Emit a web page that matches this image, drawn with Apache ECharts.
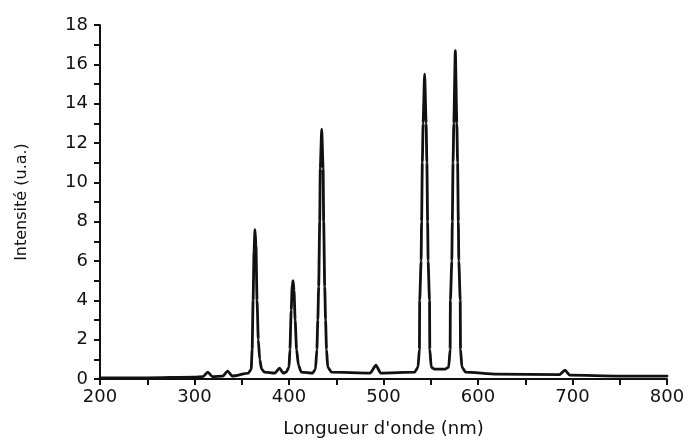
<!DOCTYPE html>
<html>
<head>
<meta charset="utf-8">
<script src="https://cdn.jsdelivr.net/npm/echarts@6/dist/echarts.min.js"></script>
<style>
  html, body { margin: 0; padding: 0; background: #fff; }
  #chart { width: 690px; height: 443px; }
</style>
</head>
<body>
<div id="chart"></div>
<script>
// wavelength (nm)
const wavelengths = [
  200, 250, 300, 309, 314, 319, 330, 335, 340, 357,
  360, 361, 362, 363, 364, 365, 366.2, 367.5, 369, 371,
  374, 385, 390, 394, 397, 400, 401, 402.3, 403.5, 404.3,
  405.3, 406.5, 408, 410, 413, 425, 428, 429.5, 430.5, 431.4,
  432.5, 433.1, 434.6, 436.1, 436.7, 437.8, 438.7, 439.7, 441, 445,
  486, 492, 497, 533, 536.5, 538, 538.3, 539.8, 540.3, 541.1,
  541.9, 543.5, 545.1, 545.9, 546.7, 547.2, 548.7, 549, 550.5, 554,
  565, 569, 570.5, 570.8, 572.3, 572.8, 573.6, 574.4, 576, 577.6,
  578.4, 579.2, 579.7, 581.2, 581.5, 583, 587, 620, 686, 692,
  697, 750, 800
];
// intensity (u.a.)
const intensity = [
  0.05, 0.06, 0.1, 0.12, 0.35, 0.12, 0.15, 0.4, 0.15, 0.3,
  0.5, 1.5, 4, 6.5, 7.6, 6.8, 4, 2, 1, 0.5,
  0.35, 0.3, 0.55, 0.3, 0.35, 0.6, 1.5, 3.5, 4.8, 5.0,
  4.5, 3, 1.5, 0.7, 0.35, 0.3, 0.5, 1.5, 3, 4.7,
  8, 10.7, 12.7, 10.7, 8, 4.7, 3, 1.5, 0.6, 0.35,
  0.3, 0.7, 0.3, 0.35, 0.6, 1.5, 4, 6, 8, 11,
  13, 15.5, 13, 11, 8, 6, 4, 1.5, 0.6, 0.5,
  0.5, 0.6, 1.5, 4, 6, 8, 11, 13, 16.7, 13,
  11, 8, 6, 4, 1.5, 0.6, 0.35, 0.25, 0.22, 0.45,
  0.2, 0.15, 0.15
];
const xTicks = { min: 200, max: 800, step: 100 };
const yTicks = { min: 0, max: 18, step: 2 };

const points = wavelengths.map((w, i) => [w, intensity[i]]);

const font = 'DejaVu Sans';
const chart = echarts.init(document.getElementById('chart'), null, { renderer: 'canvas' });

chart.setOption({
  backgroundColor: '#ffffff',
  animation: false,
  grid: { left: 100, right: 23, top: 25, bottom: 60 },
  xAxis: {
    type: 'value',
    min: xTicks.min,
    max: xTicks.max,
    interval: xTicks.step,
    name: "Longueur d'onde (nm)",
    nameLocation: 'middle',
    nameGap: 41,
    nameTextStyle: { fontFamily: font, fontSize: 18, color: '#111' },
    axisLine: { lineStyle: { color: '#111', width: 2 } },
    axisTick: { show: true, length: 6, lineStyle: { color: '#111', width: 2 } },
    minorTick: { show: true, splitNumber: 2, length: 6, lineStyle: { color: '#111', width: 2 } },
    axisLabel: { fontFamily: font, fontSize: 18, color: '#111', margin: 9 },
    splitLine: { show: false }
  },
  yAxis: {
    type: 'value',
    min: yTicks.min,
    max: yTicks.max,
    interval: yTicks.step,
    name: 'Intensité (u.a.)',
    nameLocation: 'middle',
    nameGap: 70,
    nameTextStyle: { fontFamily: font, fontSize: 16, color: '#111' },
    axisLine: { show: true, lineStyle: { color: '#111', width: 2 } },
    axisTick: { show: true, length: 6, lineStyle: { color: '#111', width: 2 } },
    minorTick: { show: true, splitNumber: 2, length: 6, lineStyle: { color: '#111', width: 2 } },
    axisLabel: { fontFamily: font, fontSize: 18, color: '#111', margin: 12 },
    splitLine: { show: false }
  },
  series: [{
    type: 'line',
    data: points,
    showSymbol: false,
    smooth: 0.2,
    smoothMonotone: 'x',
    lineStyle: { color: '#111', width: 2.8, join: 'round', cap: 'round' }
  }]
});
</script>
</body>
</html>
